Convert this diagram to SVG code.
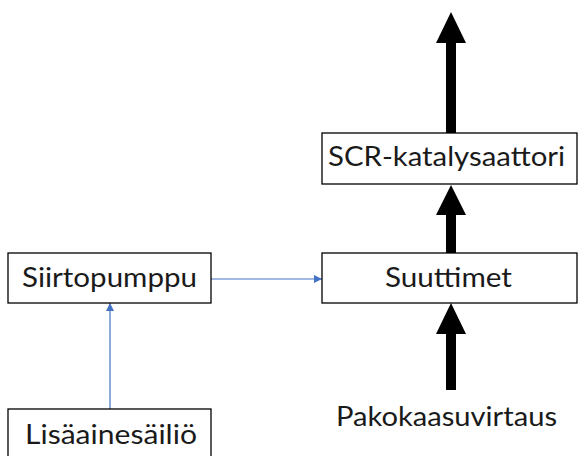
<svg xmlns="http://www.w3.org/2000/svg" width="578" height="456" viewBox="0 0 578 456">
  <style>
    .box { fill: #ffffff; stroke: #000000; stroke-width: 1.3; }
    .label { font-family: Lato, "Liberation Sans", sans-serif; font-size: 27px; fill: #1a1a1a; }
    .flow { stroke: #4472C4; stroke-width: 1.2; fill: none; }
    .thick { fill: #000000; }
  </style>
  <defs>
    <marker id="blueHead" markerWidth="8" markerHeight="8" refX="8" refY="4" orient="auto" markerUnits="userSpaceOnUse">
      <path d="M0,0 L8,4 L0,8 Z" fill="#4472C4"/>
    </marker>
  </defs>

  <rect width="578" height="456" fill="#ffffff"/>

  <!-- connectors -->
  <g id="connectors">
    <line class="flow" x1="211" y1="279" x2="322" y2="279" marker-end="url(#blueHead)"/>
    <line class="flow" x1="110" y1="409" x2="110" y2="303" marker-end="url(#blueHead)"/>
    <!-- exhaust flow arrows -->
    <path class="thick" d="M446,133 L446,43 L436,43 L451,12 L466,43 L456,43 L456,133 Z"/>
    <path class="thick" d="M446,253 L446,215 L436,215 L451,185 L466,215 L456,215 L456,253 Z"/>
    <path class="thick" d="M446,390 L446,334 L436,334 L451,303 L466,334 L456,334 L456,390 Z"/>
  </g>

  <g id="scr">
    <rect class="box" x="322" y="133" width="255" height="51"/>
    <text class="label" x="328" y="166" textLength="237" lengthAdjust="spacingAndGlyphs">SCR-katalysaattori</text>
  </g>

  <g id="suuttimet">
    <rect class="box" x="322" y="253" width="255" height="50"/>
    <text class="label" x="385" y="287" textLength="127" lengthAdjust="spacingAndGlyphs">Suuttimet</text>
  </g>

  <g id="siirtopumppu">
    <rect class="box" x="8" y="253" width="203" height="50"/>
    <text class="label" x="22" y="287" textLength="175" lengthAdjust="spacingAndGlyphs">Siirtopumppu</text>
  </g>

  <g id="lisaainesailio">
    <rect class="box" x="8" y="409" width="203" height="60"/>
    <text class="label" x="25" y="444" textLength="172" lengthAdjust="spacingAndGlyphs">Lisäainesäiliö</text>
  </g>

  <g id="pakokaasuvirtaus">
    <text class="label" x="336" y="426" textLength="221" lengthAdjust="spacingAndGlyphs">Pakokaasuvirtaus</text>
  </g>
</svg>
